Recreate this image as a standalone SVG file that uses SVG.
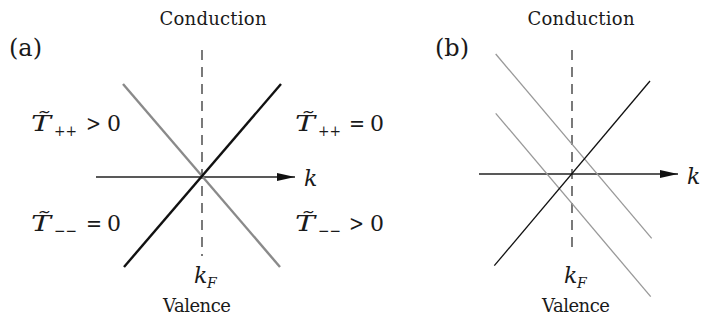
<svg xmlns="http://www.w3.org/2000/svg" width="703" height="320" viewBox="0 0 703 320">
<style>
.word{font-family:"DejaVu Serif","Liberation Serif",serif;font-size:18px;fill:#1a1a1a}
.pl{font-family:"DejaVu Serif","Liberation Serif",serif;font-size:24px;fill:#1a1a1a}
.mi{font-family:"DejaVu Serif","Liberation Serif",serif;font-style:italic;font-size:22px;fill:#1a1a1a}
.mr{font-family:"DejaVu Serif","Liberation Serif",serif;font-size:22px;fill:#1a1a1a}
.sub{font-family:"DejaVu Serif","Liberation Serif",serif;font-size:15px;fill:#1a1a1a}
.subi{font-family:"DejaVu Serif","Liberation Serif",serif;font-style:italic;font-size:14px;fill:#1a1a1a}
.dash{stroke:#333;stroke-width:1.3;stroke-dasharray:10 7;fill:none}
.axis{stroke:#222;stroke-width:1.4;fill:none}
.thickB{stroke:#111;stroke-width:2.4;fill:none}
.thickG{stroke:#8a8a8a;stroke-width:2.4;fill:none}
.thinB{stroke:#111;stroke-width:1.3;fill:none}
.thinG{stroke:#999;stroke-width:1.3;fill:none}
</style>
<defs>
<marker id="arr" viewBox="0 0 18 8" refX="18" refY="4" markerWidth="18" markerHeight="8" markerUnits="userSpaceOnUse" orient="auto">
<path d="M0,0 L18,4 L0,8 Z" fill="#111"/>
</marker>
</defs>
<g id="panel-a">
<text class="word" x="213" y="25" text-anchor="middle" textLength="107">Conduction</text>
<text class="pl" x="9" y="56">(a)</text>
<g id="a-connectors">
<line class="dash" x1="202" y1="50" x2="202" y2="256"/>
<line class="axis" x1="96" y1="177" x2="295" y2="177" marker-end="url(#arr)"/>
<line class="thickG" x1="123" y1="84" x2="280" y2="267"/>
<line class="thickB" x1="124" y1="267" x2="281" y2="84"/>
</g>
<text class="mi" x="304" y="186">k</text>
<text class="mi" x="194" y="283">k</text><text class="subi" x="207" y="288">F</text>
<text class="word" x="197" y="312" text-anchor="middle" textLength="68">Valence</text>
<g id="lbl-tl">
<text class="mi" x="31" y="131" textLength="20" lengthAdjust="spacingAndGlyphs">T&#x303;</text>
<text class="sub" x="54" y="136" textLength="23" lengthAdjust="spacingAndGlyphs">++</text>
<text class="mr" x="86" y="131" textLength="15" lengthAdjust="spacingAndGlyphs">&gt;</text><text class="mr" x="107" y="131">0</text>
</g>
<g id="lbl-bl">
<text class="mi" x="31" y="231" textLength="20" lengthAdjust="spacingAndGlyphs">T&#x303;</text>
<text class="sub" x="54" y="236" textLength="23" lengthAdjust="spacingAndGlyphs">−−</text>
<text class="mr" x="86" y="231" textLength="16" lengthAdjust="spacingAndGlyphs">=</text><text class="mr" x="107" y="231">0</text>
</g>
<g id="lbl-tr">
<text class="mi" x="295" y="131" textLength="20" lengthAdjust="spacingAndGlyphs">T&#x303;</text>
<text class="sub" x="318" y="136" textLength="23" lengthAdjust="spacingAndGlyphs">++</text>
<text class="mr" x="349" y="131" textLength="16" lengthAdjust="spacingAndGlyphs">=</text><text class="mr" x="370" y="131">0</text>
</g>
<g id="lbl-br">
<text class="mi" x="295" y="231" textLength="20" lengthAdjust="spacingAndGlyphs">T&#x303;</text>
<text class="sub" x="318" y="236" textLength="23" lengthAdjust="spacingAndGlyphs">−−</text>
<text class="mr" x="349" y="231" textLength="15" lengthAdjust="spacingAndGlyphs">&gt;</text><text class="mr" x="370" y="231">0</text>
</g>
</g>
<g id="panel-b">
<text class="word" x="581" y="25" text-anchor="middle" textLength="107">Conduction</text>
<text class="pl" x="435" y="56">(b)</text>
<g id="b-connectors">
<line class="dash" x1="572" y1="50" x2="572" y2="247"/>
<line class="axis" x1="479" y1="174" x2="678" y2="174" marker-end="url(#arr)"/>
<line class="thinG" x1="495.7" y1="54" x2="651.7" y2="238.3"/>
<line class="thinG" x1="495.7" y1="113.3" x2="650.7" y2="296.7"/>
<line class="thinB" x1="494.3" y1="265.7" x2="650" y2="81"/>
</g>
<text class="mi" x="687" y="184">k</text>
<text class="mi" x="564" y="283">k</text><text class="subi" x="577" y="288">F</text>
<text class="word" x="576" y="312" text-anchor="middle" textLength="68">Valence</text>
</g>
</svg>
